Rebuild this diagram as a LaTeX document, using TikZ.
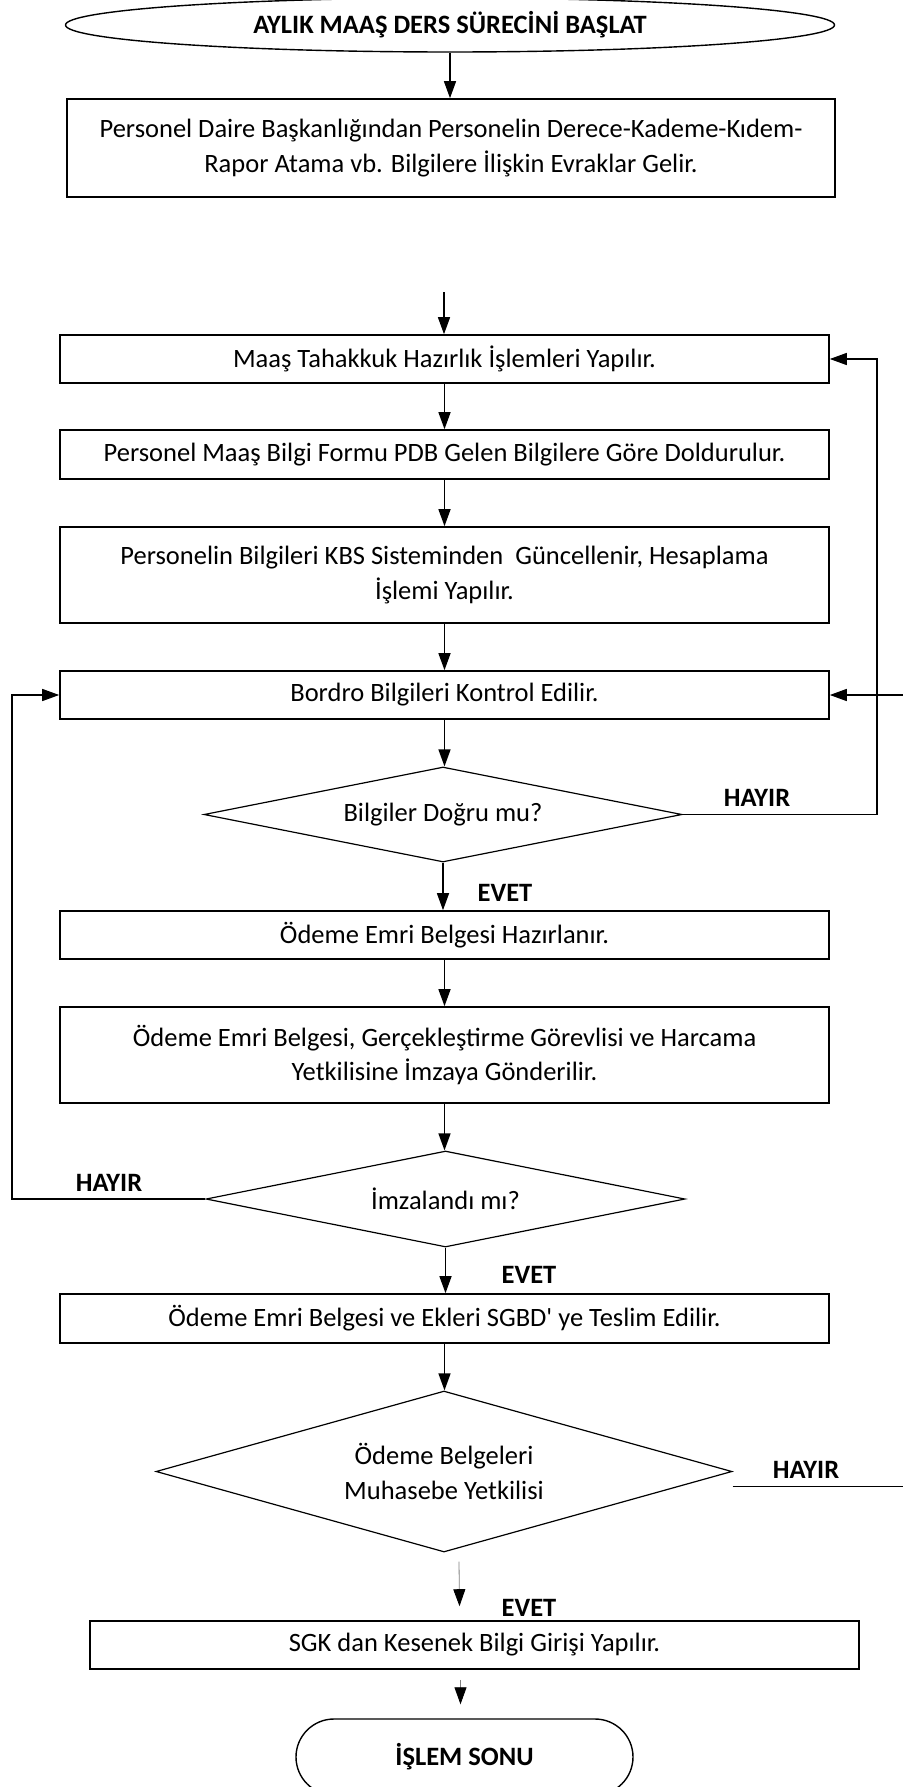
\documentclass[tikz,border=0pt]{standalone}
\usepackage{fontspec}
\setmainfont{Carlito}
\usetikzlibrary{shapes.geometric,arrows.meta}

\begin{document}
\begin{tikzpicture}[x=1pt,y=-1pt,
            font=\fontsize{26.5}{34.5}\selectfont,
            box/.style={draw,line width=1.6pt,minimum width=769pt,minimum height=48pt,inner sep=0pt,align=center},
            decision/.style={draw,diamond,line width=1.2pt,inner sep=0pt,align=center},
            flow/.style={line width=1.4pt,-{Triangle[length=17pt,width=12pt]}},
            soft/.style={line width=0.8pt,draw=gray,-{Triangle[length=17pt,width=12pt,color=black]}},
            lbl/.style={font=\fontsize{26.5}{30}\selectfont\bfseries,inner sep=0pt}]
            \useasboundingbox (0,0) rectangle (902,1787);

            \node[draw,ellipse,line width=1.4pt,minimum width=769pt,minimum height=54pt,font=\fontsize{26.5}{30}\selectfont\bfseries] (start) at (450,25) {AYLIK MAAŞ DERS SÜRECİNİ BAŞLAT};
            \node[box,minimum width=768pt,minimum height=98pt] (evrak) at (451,148) {Personel Daire Başkanlığından Personelin Derece-Kademe-Kıdem-\\Rapor Atama vb. Bilgilere İlişkin Evraklar Gelir.};
            \node[box] (hazirlik) at (444.5,359) {Maaş Tahakkuk Hazırlık İşlemleri Yapılır.};
            \node[box,minimum height=49pt] (form) at (444.5,454.5) {Personel Maaş Bilgi Formu PDB Gelen Bilgilere Göre Doldurulur.};
            \node[box,minimum height=96pt] (kbs) at (444.5,575) {Personelin Bilgileri KBS Sisteminden\ \ Güncellenir, Hesaplama\\İşlemi Yapılır.};
            \node[box] (bordro) at (444.5,695) {Bordro Bilgileri Kontrol Edilir.};
            \node[decision,aspect=5,minimum width=478pt,minimum height=95pt] (dogru) at (443,814.5) {Bilgiler Doğru mu?};
            \node[box] (emir) at (444.5,935) {Ödeme Emri Belgesi Hazırlanır.};
            \node[box,minimum height=96pt] (imza) at (444.5,1055) {Ödeme Emri Belgesi, Gerçekleştirme Görevlisi ve Harcama\\Yetkilisine İmzaya\ Gönderilir.};
            \node[decision,aspect=5,minimum width=479pt,minimum height=96pt] (imzalandi) at (445.5,1199) {İmzalandı mı?};
            \node[box,minimum height=49pt] (teslim) at (444.5,1318.5) {Ödeme Emri Belgesi ve Ekleri SGBD\textquotesingle\ ye Teslim Edilir.};
            \node[decision,aspect=3.6,minimum width=576pt,minimum height=161pt] (muhasebe) at (444,1471.5) {Ödeme Belgeleri\\Muhasebe Yetkilisi};
            \node[box] (sgk) at (474.5,1645) {SGK dan Kesenek Bilgi Girişi Yapılır.};
            \node[draw,rounded corners=38pt,line width=1.4pt,minimum width=337pt,minimum height=76pt,font=\fontsize{26.5}{30}\selectfont\bfseries] (son) at (464.5,1757) {İŞLEM SONU};

            \node[lbl] (hayir1) at (757,798) {HAYIR};
            \node[lbl] (evet1) at (505,893) {EVET};
            \node[lbl] (hayir2) at (109,1183) {HAYIR};
            \node[lbl] (evet2) at (529,1275) {EVET};
            \node[lbl] (hayir3) at (806,1470) {HAYIR};
            \node[lbl] (evet3) at (529,1608) {EVET};

            \coordinate (giris) at (444,292);
            \coordinate (sag) at (877,0);
            \coordinate (sol) at (12,0);
            \coordinate (dis) at (915,0);

            \draw[flow] (start.south) -- (start.south |- evrak.north);
            \draw[flow] (giris) -- (giris |- hazirlik.north);
            \foreach \a/\b in {hazirlik/form,form/kbs,kbs/bordro,bordro/dogru,dogru/emir,emir/imza,imza/imzalandi,imzalandi/teslim,teslim/muhasebe}
              \draw[flow] (\a.south) -- (\a.south |- \b.north);

            \draw[flow] (dogru.east) -| (sag |- hazirlik.east) -- (hazirlik.east);
            \draw[flow] (imzalandi.west) -| (sol |- bordro.west) -- (bordro.west);
            \draw[flow] ([yshift=-15pt]muhasebe.east) -| (dis |- bordro.east) -- (bordro.east);

            \draw[soft] ([shift={(15,9)}]muhasebe.south) -- ([shift={(-15,-14)}]sgk.north);
            \draw[soft] ([shift={(-14,10)}]sgk.south) -- ([shift={(-4,-14)}]son.north);
\end{tikzpicture}
\end{document}
